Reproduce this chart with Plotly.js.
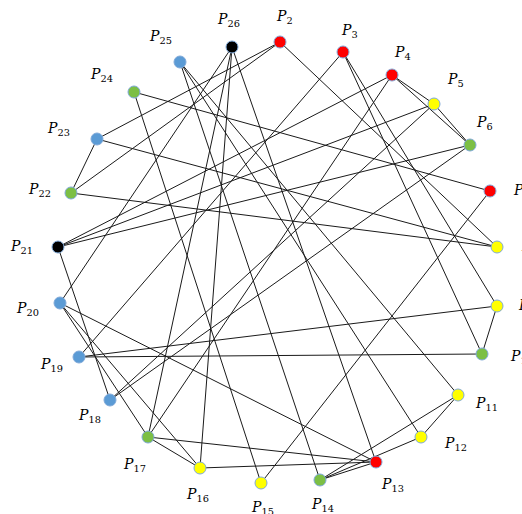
<!DOCTYPE html>
<html>
<head>
<meta charset="utf-8">
<script src="https://cdn.plot.ly/plotly-3.0.1.min.js"></script>
<style>html,body{margin:0;padding:0;background:#fff;}#chart{width:522px;height:514px;}</style>
</head>
<body>
<div id="chart"></div>
<script>
// Node ids, positions and colour groups
const nodeIds = [2,3,4,5,6,7,8,9,10,11,12,13,14,15,16,17,18,19,20,21,22,23,24,25,26];
const nodeX = [280,343,392,434,470,490,497,497,482,458,421,376,320,261,200,148,110,79,60,58,71,97,134,180,232];
const nodeY = [42,52,75,104,145,191,247,306,354,395,437,462,480,483,468,437,400,357,303,247,193,139,92,62,47];
const nodeGroup = ['r','r','r','y','g','r','y','y','g','y','y','r','g','y','y','g','b','b','b','k','g','b','g','b','k'];
// Edges as pairs of node ids
const edges = [
  [2,23],[2,22],[2,8],
  [3,19],[3,9],[3,10],
  [4,5],[4,6],[4,21],[4,17],
  [5,6],[5,21],[5,18],
  [6,21],[6,18],
  [7,24],[7,15],
  [8,22],[8,23],
  [9,19],[9,10],[10,19],
  [11,25],[11,12],[11,14],
  [12,25],[12,14],
  [13,26],[13,16],[13,17],[13,20],[13,14],
  [14,25],[15,24],
  [16,26],[16,17],[16,20],
  [17,26],[17,20],
  [18,21],[22,23],[20,26]
];
const groupColor = {r:'#FF0000', y:'#FFFF00', g:'#7CBF45', b:'#5B9BD5', k:'#000000'};
// label offsets in pixels (layout only)
const labelShift = {
  2:[4,-25],3:[6,-21],4:[10,-22],5:[21,-24],6:[14,-22],7:[31,0],8:[32,0],9:[29,0],10:[39,3],
  11:[28,9],12:[34,7],13:[16,23],14:[2,25],15:[1,25],16:[-3,27],17:[-14,28],18:[-21,16],
  19:[-28,8],20:[-33,6],21:[-37,0],22:[-32,-3],23:[-39,-10],24:[-33,-17],25:[-20,-25],26:[-4,-27]
};

const idx = {};
nodeIds.forEach((id,i)=>{idx[id]=i;});
const ex = [], ey = [];
edges.forEach(([a,b])=>{
  ex.push(nodeX[idx[a]], nodeX[idx[b]], null);
  ey.push(nodeY[idx[a]], nodeY[idx[b]], null);
});

const edgeTrace = {
  x: ex, y: ey, mode: 'lines', type: 'scatter',
  line: {color: '#1a1a1a', width: 1}, hoverinfo: 'skip'
};
const nodeTrace = {
  x: nodeX, y: nodeY, mode: 'markers', type: 'scatter',
  marker: {size: 12, color: nodeGroup.map(g=>groupColor[g]), line: {color: '#7FA9D9', width: 1}},
  cliponaxis: false
};
const annotations = nodeIds.map((id,i)=>({
  x: nodeX[i], y: nodeY[i], xref: 'x', yref: 'y',
  text: '<i>P</i><sub>'+id+'</sub>', showarrow: false,
  xshift: labelShift[id][0], yshift: -labelShift[id][1],
  xanchor: 'center', yanchor: 'middle',
  font: {family: 'DejaVu Serif, serif', size: 14, color: '#000'}
}));
const layout = {
  width: 522, height: 514,
  margin: {l:0, r:0, t:0, b:0},
  paper_bgcolor: '#fff', plot_bgcolor: '#fff',
  showlegend: false,
  xaxis: {range: [0,522], visible: false, fixedrange: true},
  yaxis: {range: [514,0], visible: false, fixedrange: true},
  annotations: annotations
};
Plotly.newPlot('chart', [edgeTrace, nodeTrace], layout, {displayModeBar: false, staticPlot: true});
</script>
</body>
</html>
